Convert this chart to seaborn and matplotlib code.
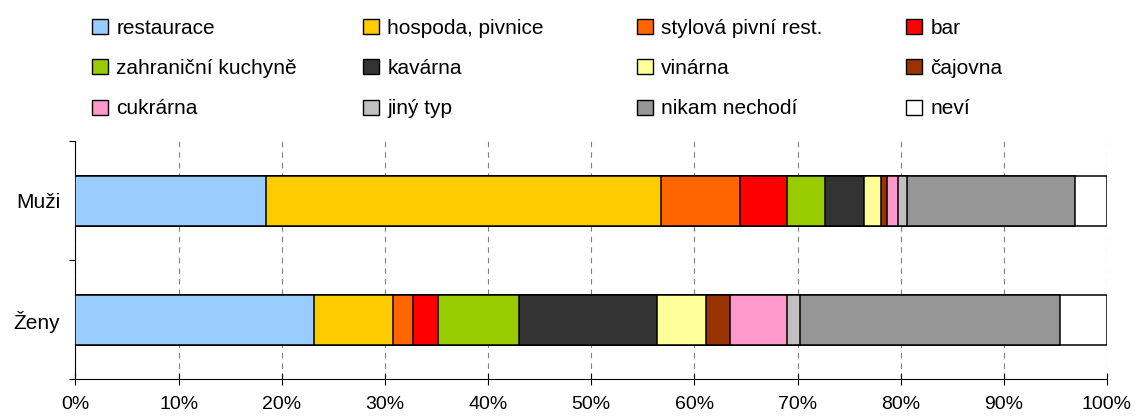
import numpy as np
import pandas as pd
import matplotlib
matplotlib.use("Agg")
import matplotlib.pyplot as plt
from matplotlib.patches import Patch
import seaborn as sns

groups = ["Muži", "Ženy"]
categories = ["restaurace", "hospoda, pivnice", "stylová pivní rest.", "bar",
              "zahraniční kuchyně", "kavárna", "vinárna", "čajovna",
              "cukrárna", "jiný typ", "nikam nechodí", "neví"]
colors = ["#99ccff", "#ffcc00", "#ff6600", "#ff0000",
          "#99cc00", "#333333", "#ffff99", "#993300",
          "#ff99cc", "#c0c0c0", "#969696", "#ffffff"]
muzi = [18.5, 38.3, 7.6, 4.6, 3.7, 3.7, 1.7, 0.6, 1.0, 0.9, 16.3, 3.1]
zeny = [23.1, 7.7, 1.9, 2.4, 7.9, 13.4, 4.7, 2.4, 5.5, 1.2, 25.2, 4.6]

sns.set_theme(style="white")
plt.rcParams["font.family"] = ["Liberation Sans", "DejaVu Sans"]
plt.rcParams["text.color"] = "black"
plt.rcParams["xtick.color"] = "black"
plt.rcParams["ytick.color"] = "black"
fs = 15

df = pd.DataFrame({"kategorie": categories * 2,
                   "skupina": [groups[0]] * len(categories) + [groups[1]] * len(categories),
                   "podil": muzi + zeny})
df["kumul"] = df.groupby("skupina")["podil"].cumsum()

fig = plt.figure(figsize=(11.37, 4.17), dpi=100)
ax = fig.add_axes([0.0664, 0.0911, 0.9072, 0.5707])

# stacked bars: draw cumulative totals from the widest down
for cat, col in reversed(list(zip(categories, colors))):
    sub = df[df["kategorie"] == cat]
    sns.barplot(data=sub, x="kumul", y="skupina", order=groups, color=col,
                saturation=1, width=0.42, edgecolor="black", linewidth=1.1,
                orient="h", ax=ax, zorder=3)

ax.set_xlim(0, 100)
ax.set_ylim(1.5, -0.5)
ax.set_xticks(np.arange(0, 101, 10))
ax.set_xticklabels([f"{v}%" for v in range(0, 101, 10)], fontsize=14)
ax.set_yticks([0, 1])
ax.set_yticklabels(groups, fontsize=fs)
ax.set_yticks([-0.5, 0.5, 1.5], minor=True)
ax.tick_params(axis="y", which="major", length=0, pad=11)
ax.tick_params(axis="y", which="minor", length=4.5, width=0.8, color="black", direction="out", left=True)
ax.tick_params(axis="x", which="major", length=9, width=0.8, color="black", direction="inout", bottom=True, pad=7.5)
ax.set_xlabel("")
ax.set_ylabel("")
ax.grid(axis="x", color="#808080", linestyle=(0, (5, 4.5)), linewidth=0.8)
ax.grid(axis="y", visible=False)
ax.set_axisbelow(True)
for s in ["top", "right"]:
    ax.spines[s].set_visible(False)
for s in ["left", "bottom"]:
    ax.spines[s].set_color("black")
    ax.spines[s].set_linewidth(0.8)

# legend: 4 columns of 3 rows
col_x = [92, 363, 637, 906]
for c in range(4):
    idx = [c, c + 4, c + 8]
    handles = [Patch(facecolor=colors[i], edgecolor="black", linewidth=1.0) for i in idx]
    labels = [categories[i] for i in idx]
    fig.legend(handles, labels, loc="upper left",
               bbox_to_anchor=(col_x[c] / 1137, 1 - 19 / 417),
               bbox_transform=fig.transFigure, frameon=False, fontsize=fs,
               handlelength=0.77, handleheight=0.73, handletextpad=0.4,
               labelspacing=1.02, borderpad=0, borderaxespad=0)

fig.savefig("out.png", dpi=100)
